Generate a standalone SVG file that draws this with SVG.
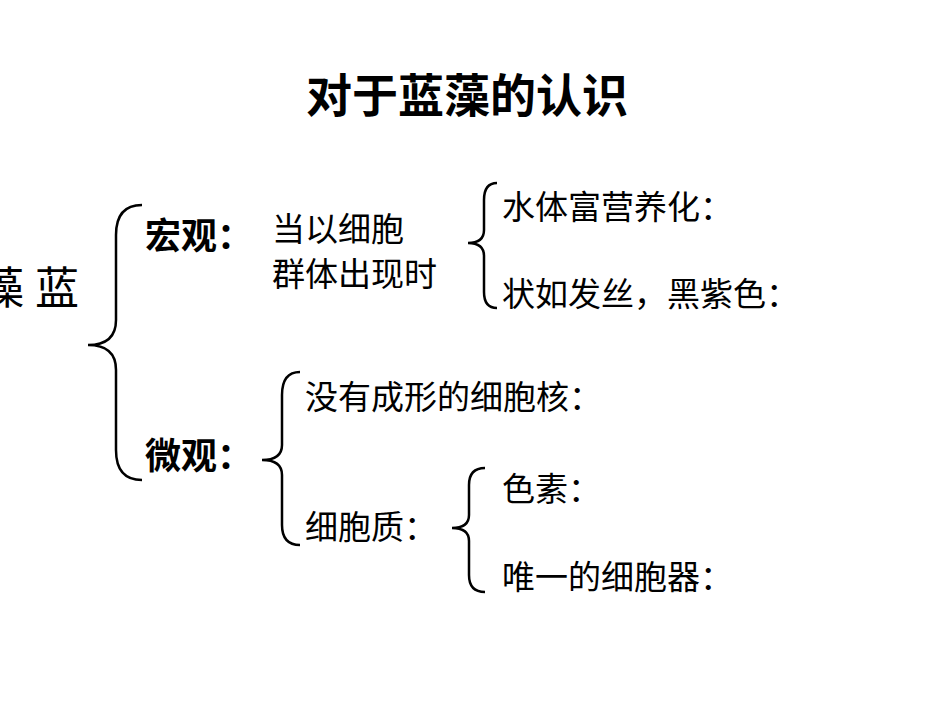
<svg xmlns="http://www.w3.org/2000/svg" width="950" height="713" viewBox="0 0 950 713">
<style>
text{font-family:"Liberation Sans","Noto Sans CJK SC",sans-serif;fill:#000}
.b{font-weight:bold}
.t{font-size:33px}
.br{fill:none;stroke:#000;stroke-width:2.5}
</style>
<rect width="950" height="713" fill="#fff"/>
<text class="b" x="467" y="112" font-size="46" text-anchor="middle">对于蓝藻的认识</text>
<g id="root"><text x="-20" y="304" font-size="44">藻</text><text x="35" y="304" font-size="44">蓝</text></g>
<g id="connectors">
<path class="br" d="M142,205 Q116,205 116,235 L116,320 Q116,345 88,345 Q116,345 116,370 L116,450 Q116,480 142,480"/>
<path class="br" d="M497,183 Q484,183 484,200 L484,230 Q484,243 468,243 Q484,243 484,256 L484,292 Q484,308 497,308"/>
<path class="br" d="M300,372 Q282,372 282,395 L282,445 Q282,460 262,460 Q282,460 282,475 L282,525 Q282,545 300,545"/>
<path class="br" d="M485,468 Q469,468 469,485 L469,515 Q469,528 452,528 Q469,528 469,541 L469,575 Q469,592 485,592"/>
</g>
<g id="macro"><text class="b" x="145" y="249" font-size="36">宏观：</text></g>
<g id="macro-cond"><text class="t" x="272" y="241">当以细胞</text><text class="t" x="272" y="286">群体出现时</text></g>
<g id="m1"><text class="t" x="502" y="219">水体富营养化：</text></g>
<g id="m2"><text class="t" x="502" y="306">状如发丝，黑紫色：</text></g>
<g id="micro"><text class="b" x="145" y="469" font-size="36">微观：</text></g>
<g id="n1"><text class="t" x="305" y="409">没有成形的细胞核：</text></g>
<g id="n2"><text class="t" x="305" y="539">细胞质：</text></g>
<g id="c1"><text class="t" x="502" y="501">色素：</text></g>
<g id="c2"><text class="t" x="502" y="589">唯一的细胞器：</text></g>
</svg>
